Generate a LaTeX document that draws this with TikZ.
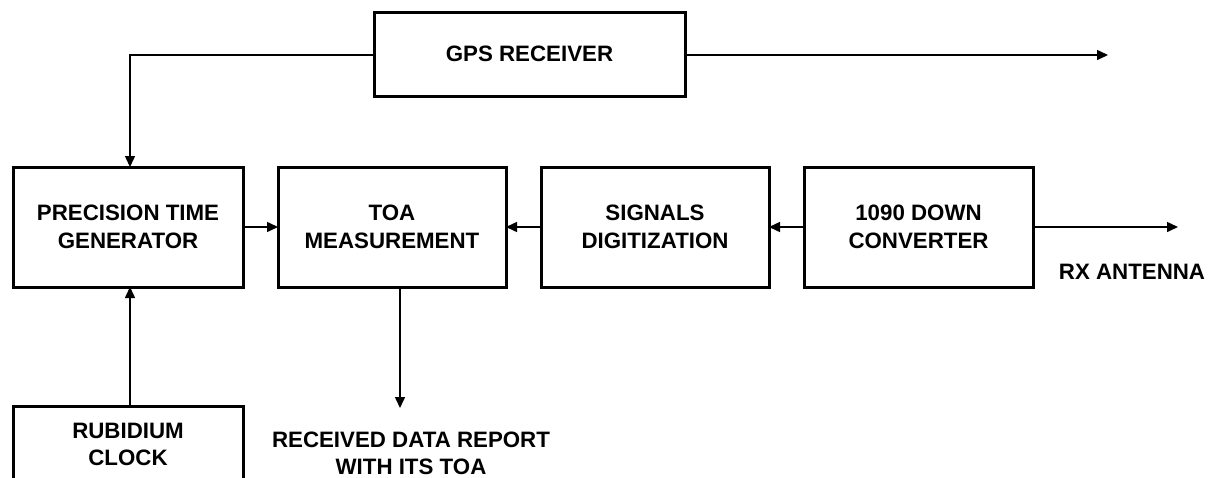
\documentclass[tikz,border=0pt]{standalone}
\usepackage{fontspec}
\setmainfont{Liberation Sans}
\usetikzlibrary{arrows.meta}
\begin{document}
\begin{tikzpicture}[x=1pt,y=-1pt,
  box/.style={draw,line width=3pt,inner sep=0pt,outer sep=0pt,align=center,
    font=\fontsize{22.3}{28}\selectfont\bfseries},
  lbl/.style={align=center,inner sep=0pt,font=\fontsize{22.3}{27}\selectfont\bfseries},
  arr/.style={line width=1.5pt,-{Triangle[length=11pt,width=10pt]}},
  ln/.style={line width=1.5pt}]
\useasboundingbox (0,0) rectangle (1208,477);
\fill[white] (0,0) rectangle (1208,477);
\node[box,minimum width=311pt,minimum height=84pt] (gps) at (529.5,54) {GPS RECEIVER};
\node[box,minimum width=230pt,minimum height=120pt] (ptg) at (128,227) {PRECISION TIME\\GENERATOR};
\node[box,minimum width=228pt,minimum height=120pt] (toa) at (392,227) {TOA\\MEASUREMENT};
\node[box,minimum width=228pt,minimum height=120pt] (sig) at (655,227) {SIGNALS\\DIGITIZATION};
\node[box,minimum width=229pt,minimum height=120pt] (dc) at (918.5,227) {1090 DOWN\\CONVERTER};
\node[box,minimum width=230pt,minimum height=130pt,text depth=0pt] (rub) at (128,471) {};
\node[lbl] (rubtxt) at (128,444) {RUBIDIUM\\CLOCK};
\node[lbl] (rx) at (1132,272) {RX ANTENNA};
\node[lbl] (rep) at (411,453.5) {RECEIVED DATA REPORT\\WITH ITS TOA};
\coordinate (gl) at (130,55);
\coordinate (gpsout) at (1108,55);
\coordinate (rxout) at (1178,227);
\coordinate (toaout) at (400,408);
\draw[arr] (gps.west |- gl) -- (gl) -- (gl |- ptg.north);
\draw[arr] (gps.east |- gpsout) -- (gpsout);
\draw[arr] (ptg.east) -- (toa.west);
\draw[arr] (sig.west) -- (toa.east);
\draw[arr] (dc.west) -- (sig.east);
\draw[arr] (dc.east) -- (rxout);
\draw[arr] (toa.south -| toaout) -- (toaout);
\draw[arr] (rub.north -| gl) -- (ptg.south -| gl);
\end{tikzpicture}
\end{document}
